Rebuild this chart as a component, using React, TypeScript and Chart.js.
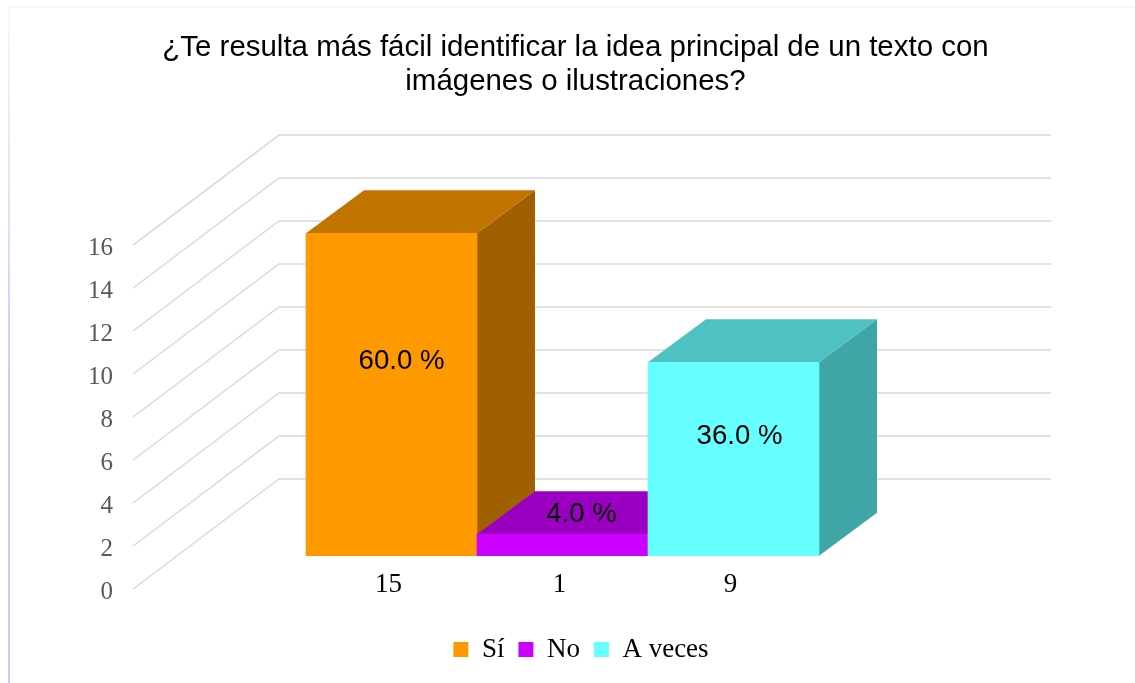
import React, { useEffect, useRef } from "react";
import { Chart, registerables } from "chart.js";

Chart.register(...registerables);

const titleLines = ["¿Te resulta más fácil identificar la idea principal de un texto con", "imágenes o ilustraciones?"];
const categories = ["15", "1", "9"];
const seriesNames = ["Sí", "No", "A veces"];
const seriesValues = [15, 1, 9];
const percentLabels = ["60.0 %", "4.0 %", "36.0 %"];
const frontColors = ["#FF9900", "#CC00FF", "#66FFFF"];
const topColors = ["#C27400", "#9B00C2", "#4EC2C2"];
const sideColors = ["#A06000", "#8000A0", "#40A5A5"];
const labelNudgeX = [10, 19, 6];
const labelNudgeY = [128, -20, 74];

const BAR_DX = 44;
const BAR_DY = -33.3;
const DEPTH_X = 58;
const DEPTH_Y = -43;
const WALL_LEFT = 133;
const WALL_DX = 146;
const WALL_DY = -110;
const WALL_RIGHT = 1051;

const poly = (ctx: CanvasRenderingContext2D, pts: number[][], fill: string) => {
  ctx.beginPath();
  pts.forEach(([x, y], i) => (i ? ctx.lineTo(x, y) : ctx.moveTo(x, y)));
  ctx.closePath();
  ctx.fillStyle = fill;
  ctx.fill();
};

const threeD = {
  id: "threeD",
  beforeDraw(chart: any) {
    const { ctx, width, height } = chart;
    ctx.save();
    ctx.fillStyle = "#FFFFFF";
    ctx.fillRect(0, 0, width, height);
    const g = ctx.createLinearGradient(0, 7, 0, 400);
    g.addColorStop(0, "#F6F8FD");
    g.addColorStop(1, "#C0D1E9");
    ctx.fillStyle = g;
    ctx.fillRect(8, 7, 2, height - 7);
    ctx.fillStyle = "#F6F7FD";
    ctx.fillRect(8, 6, width - 8, 2);
    ctx.restore();
  },
  afterLayout(chart: any) {
    chart.titleBlock.left += 8;
    chart.titleBlock.right += 8;
    chart.legend.left += 27;
  },
  beforeDatasetsDraw(chart: any) {
    const { ctx } = chart;
    const y = chart.scales.y;
    ctx.save();
    ctx.strokeStyle = "#D9D9D9";
    ctx.lineWidth = 1.5;
    y.ticks.forEach((t: any) => {
      const py = y.getPixelForValue(t.value);
      ctx.beginPath();
      ctx.moveTo(WALL_LEFT, py);
      ctx.lineTo(WALL_LEFT + WALL_DX, py + WALL_DY);
      ctx.lineTo(WALL_RIGHT, py + WALL_DY);
      ctx.stroke();
    });
    ctx.restore();
  },
  beforeDatasetDraw(chart: any, args: any) {
    const { ctx } = chart;
    const i = args.index;
    ctx.save();
    ctx.translate(BAR_DX, BAR_DY);
    const el = args.meta.data[i];
    const { x, y, base, width } = el.getProps(["x", "y", "base", "width"], true);
    const l = x - width / 2;
    const r = x + width / 2;
    poly(ctx, [[r, y], [r + DEPTH_X, y + DEPTH_Y], [r + DEPTH_X, base + DEPTH_Y], [r, base]], sideColors[i]);
    poly(ctx, [[l, y], [r, y], [r + DEPTH_X, y + DEPTH_Y], [l + DEPTH_X, y + DEPTH_Y]], topColors[i]);
  },
  afterDatasetDraw(chart: any) {
    chart.ctx.restore();
  },
  afterDatasetsDraw(chart: any) {
    const { ctx } = chart;
    ctx.save();
    ctx.fillStyle = "#000000";
    ctx.font = "27.6px 'Liberation Sans'";
    ctx.textAlign = "center";
    ctx.textBaseline = "middle";
    percentLabels.forEach((text, i) => {
      const el = chart.getDatasetMeta(i).data[i];
      ctx.fillText(text, el.x + BAR_DX + labelNudgeX[i], el.y + BAR_DY + labelNudgeY[i]);
    });
    ctx.restore();
  },
};

export default function App() {
  const ref = useRef<HTMLCanvasElement>(null);
  useEffect(() => {
    const chart = new Chart(ref.current!, {
      type: "bar",
      data: {
        labels: categories,
        datasets: seriesNames.map((name, i) => ({
          label: name,
          data: seriesValues.map((v, j) => (j === i ? v : null)),
          backgroundColor: frontColors[i],
          borderWidth: 0,
          barPercentage: 1,
          categoryPercentage: 1,
          clip: false,
          order: seriesNames.length - i,
        })),
      },
      plugins: [threeD],
      options: {
        animation: false,
        responsive: false,
        layout: { padding: { top: 0, right: 0, bottom: 10, left: 0 } },
        plugins: {
          tooltip: { enabled: false },
          title: {
            display: true,
            text: titleLines,
            color: "#000000",
            font: { family: "'Liberation Sans'", size: 29.45, weight: "normal", lineHeight: 1.155 },
            padding: { top: 31, bottom: 146 },
          },
          legend: {
            position: "bottom",
            labels: {
              color: "#000000",
              font: { family: "'Liberation Serif'", size: 27 },
              boxWidth: 15,
              boxHeight: 15,
              padding: 14,
              sort: (a: any, b: any) => a.datasetIndex - b.datasetIndex,
            },
          },
        },
        scales: {
          x: {
            stacked: true,
            grid: { display: false },
            border: { display: false },
            ticks: {
              color: "#000000",
              font: { family: "'Liberation Serif'", size: 27 },
              padding: -28,
              labelOffset: 41,
              maxRotation: 0,
              autoSkip: false,
            },
            afterFit: (s: any) => { s.height = 33; s._computeLabelArea = () => undefined; },
          },
          y: {
            stacked: true,
            min: 0,
            max: 16,
            grid: { display: false },
            border: { display: false },
            ticks: {
              stepSize: 2,
              color: "#595959",
              font: { family: "'Liberation Serif'", size: 25 },
              padding: 141,
              labelOffset: 3,
            },
            afterFit: (s: any) => { s.width = 262; s.paddingTop = 0; s.paddingBottom = 0; },
          },
          spacer: {
            position: "right",
            display: true,
            grid: { display: false },
            border: { display: false },
            ticks: { display: false },
            afterFit: (s: any) => { s.width = 360; },
          },
        },
      },
    } as any);
    return () => chart.destroy();
  }, []);
  return (
    <div style={{ position: "absolute", left: 0, top: 0, width: 1135, height: 683 }}>
      <canvas ref={ref} width={1135} height={683} style={{ display: "block" }} />
    </div>
  );
}
